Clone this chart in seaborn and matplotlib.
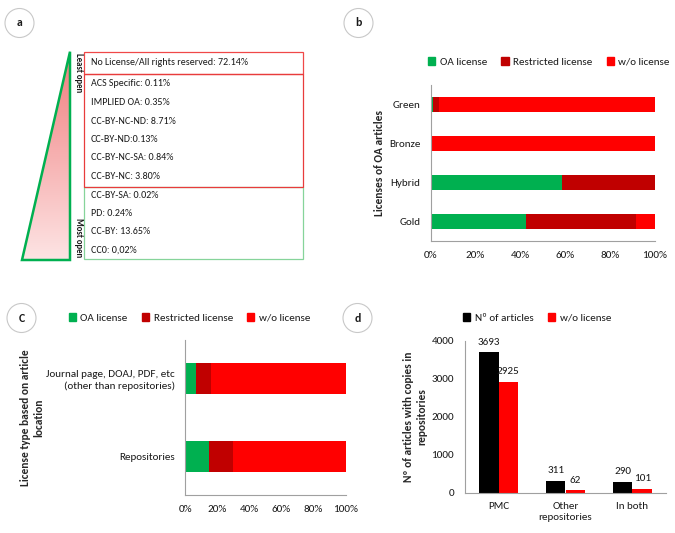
import matplotlib
matplotlib.use("Agg")
import matplotlib.pyplot as plt
from matplotlib.patches import Circle, Patch, Polygon, Rectangle
from matplotlib.ticker import FuncFormatter
import numpy as np
import pandas as pd
import seaborn as sns

# ---- data -------------------------------------------------------------
# panel a: licence list, from least open to most open
a_least_open = ["No License/All rights reserved: 72.14%"]
a_restricted = ["ACS Specific: 0.11%", "IMPLIED OA: 0.35%", "CC-BY-NC-ND: 8.71%",
                "CC-BY-ND:0.13%", "CC-BY-NC-SA: 0.84%", "CC-BY-NC: 3.80%"]
a_most_open = ["CC-BY-SA: 0.02%", "PD: 0.24%", "CC-BY: 13.65%", "CC0: 0,02%"]

# panel b: licences of OA articles (% of each OA type)
b_types = ["Green", "Bronze", "Hybrid", "Gold"]
b_oa = [0.9, 0.0, 58.4, 42.4]
b_restricted = [2.8, 0.3, 41.6, 49.1]
b_without = [96.3, 99.7, 0.0, 8.5]

# panel c: licence type by article location (%)
c_locations = ["Journal page, DOAJ, PDF, etc\n(other than repositories)", "Repositories"]
c_oa = [6.9, 14.8]
c_restricted = [8.9, 15.2]
c_without = [84.2, 70.0]

# panel d: articles with copies in repositories
d_sources = ["PMC", "Other\nrepositories", "In both"]
d_articles = [3693, 311, 290]
d_without = [2925, 62, 101]

series_names = ["OA license", "Restricted license", "w/o license"]
d_series = ["Nº of articles", "w/o license"]

GREEN = "#00b050"
DARK_RED = "#c00000"
RED = "#ff0000"
AXIS_GRAY = "#a0a0a0"
FS_A = 7.2   # panel a list
FS = 8.0     # chart text
W, H = 675, 533


def setup_style():
    sns.set_theme(style="white")
    plt.rcParams["font.family"] = ["Carlito", "Lato", "DejaVu Sans"]
    plt.rcParams.update({
        "axes.edgecolor": AXIS_GRAY,
        "axes.linewidth": 0.8,
        "xtick.labelsize": FS,
        "ytick.labelsize": FS,
        "text.color": "#1a1a1a",
        "xtick.color": "#1a1a1a",
        "ytick.color": "#1a1a1a",
    })


def px_axes(fig, left, top, right, bottom):
    return fig.add_axes([left / W, 1 - bottom / H, (right - left) / W, (bottom - top) / H])


def stacked_barh(ax, cats, oa, restr, without, bar_width):
    df = pd.DataFrame({"cat": cats, "oa": oa, "restr": restr, "without": without})
    df["oa_restr"] = df["oa"] + df["restr"]
    df["total"] = df["oa_restr"] + df["without"]
    # overlap cumulative bars, longest first
    for col, color in [("total", RED), ("oa_restr", DARK_RED), ("oa", GREEN)]:
        sns.barplot(data=df, x=col, y="cat", color=color, saturation=1,
                    width=bar_width, errorbar=None, ax=ax, linewidth=0)
    n = len(cats)
    ax.set_xlim(0, 100)
    ax.set_ylim(n - 0.5, -0.5)
    ax.set_xticks(np.arange(0, 101, 20))
    ax.xaxis.set_major_formatter(FuncFormatter(lambda v, _: f"{v:.0f}%"))
    ax.set_yticks(np.arange(-0.5, n, 1), minor=True)
    ax.tick_params(axis="y", which="major", length=0, pad=7.5)
    ax.tick_params(axis="y", which="minor", length=3, color=AXIS_GRAY, width=0.8)
    ax.tick_params(axis="x", length=0, pad=7)
    ax.set_xlabel("")
    sns.despine(ax=ax)


def legend_at(fig, handles, labels, x, y, ncol):
    fig.legend(handles, labels, loc="center left", bbox_to_anchor=(x / W, 1 - y / H),
               ncol=ncol, frameon=False, fontsize=FS, handlelength=0.65,
               handleheight=0.65, handletextpad=0.4, columnspacing=1.3,
               borderpad=0, borderaxespad=0)


def main():
    setup_style()
    fig = plt.figure(figsize=(W / 100, H / 100), dpi=100)
    label_kw = dict(fontsize=FS + 0.2, fontweight="bold")
    patches = [Patch(color=c) for c in (GREEN, DARK_RED, RED)]

    # ---- b ----
    ax_b = px_axes(fig, 430.7, 85, 655, 241)
    stacked_barh(ax_b, b_types, b_oa, b_restricted, b_without, 0.385)
    ax_b.set_ylabel("Licenses of OA articles", **label_kw)
    ax_b.yaxis.set_label_coords(-0.204, 0.5)
    legend_at(fig, patches, series_names, 428, 62, 3)

    # ---- c ----
    ax_c = px_axes(fig, 185.3, 340, 345.7, 495)
    stacked_barh(ax_c, c_locations, c_oa, c_restricted, c_without, 0.4)
    ax_c.set_ylabel("License type based on article\nlocation", **label_kw)
    ax_c.yaxis.set_label_coords(-0.881, 0.5)
    legend_at(fig, patches, series_names, 68.5, 318, 3)

    # ---- d ----
    ax_d = px_axes(fig, 465, 340.7, 666, 492.7)
    df_d = pd.DataFrame({
        "source": d_sources * 2,
        "series": [d_series[0]] * len(d_sources) + [d_series[1]] * len(d_sources),
        "count": d_articles + d_without,
    })
    sns.barplot(data=df_d, x="source", y="count", hue="series",
                palette=["black", RED], saturation=1, width=0.58, gap=0,
                errorbar=None, ax=ax_d, linewidth=0, legend=False)
    for cont in ax_d.containers:
        ax_d.bar_label(cont, padding=4, fontsize=FS)
    ax_d.set_ylim(0, 4000)
    ax_d.set_yticks(np.arange(0, 4001, 1000))
    ax_d.tick_params(axis="y", length=3, color=AXIS_GRAY, width=0.8, pad=5)
    ax_d.tick_params(axis="x", length=0, pad=7)
    ax_d.set_xlabel("")
    ax_d.set_ylabel("Nº of articles with copies in\nrepositories", **label_kw)
    ax_d.yaxis.set_label_coords(-0.189, 0.5)
    sns.despine(ax=ax_d)
    legend_at(fig, [Patch(color="black"), Patch(color=RED)], d_series, 463, 318, 2)

    # ---- a and the panel letters, drawn in pixel coordinates ----
    ov = fig.add_axes([0, 0, 1, 1], facecolor="none")
    ov.axis("off")

    for (x, y), letter in zip([(19.5, 23), (358.5, 23), (21.5, 318), (357.5, 318)],
                              ["a", "b", "C", "d"]):
        ov.add_patch(Circle((x, y), 14.5, facecolor="white", edgecolor="#c8c8c8", lw=0.8))
        ov.text(x, y, letter, ha="center", va="center", fontsize=8.5, fontweight="bold")

    tri = Polygon([(70, 51.7), (22, 260), (70, 260)], closed=True, facecolor="none",
                  edgecolor=GREEN, lw=1.8, zorder=3)
    ov.add_patch(tri)
    top_col = np.array([240, 125, 125]) / 255
    bot_col = np.array([253, 228, 228]) / 255
    t = np.linspace(0, 1, 200)[:, None, None]
    grad = top_col * (1 - t) + bot_col * t
    img = ov.imshow(grad, extent=(22, 70, 260, 51.7), origin="upper", aspect="auto", zorder=2)
    img.set_clip_path(tri)
    ov.set_xlim(0, W)
    ov.set_ylim(H, 0)
    ov.text(74.5, 53, "Least open", rotation=270, ha="left", va="top", fontsize=6.3, fontweight="bold")
    ov.text(74.5, 218, "Most open", rotation=270, ha="left", va="top", fontsize=6.3, fontweight="bold")

    box_left, box_right = 84.3, 303.3
    ov.add_patch(Rectangle((box_left, 51.7), box_right - box_left, 74 - 51.7,
                           facecolor="none", edgecolor="#f04848", lw=0.9))
    ov.add_patch(Rectangle((box_left, 74), box_right - box_left, 187.3 - 74,
                           facecolor="none", edgecolor="#e83c3c", lw=0.9, zorder=3))
    ov.add_patch(Rectangle((box_left, 187.3), box_right - box_left, 259.3 - 187.3,
                           facecolor="none", edgecolor="#86d49a", lw=0.9))
    ov.text(91, 62.5, a_least_open[0], va="center", fontsize=FS_A)
    for i, s in enumerate(a_restricted + a_most_open):
        ov.text(91, 84 + i * 18.5, s, va="center", fontsize=FS_A)

    fig.savefig("out.png", dpi=100)
    plt.close(fig)


if __name__ == "__main__":
    main()
